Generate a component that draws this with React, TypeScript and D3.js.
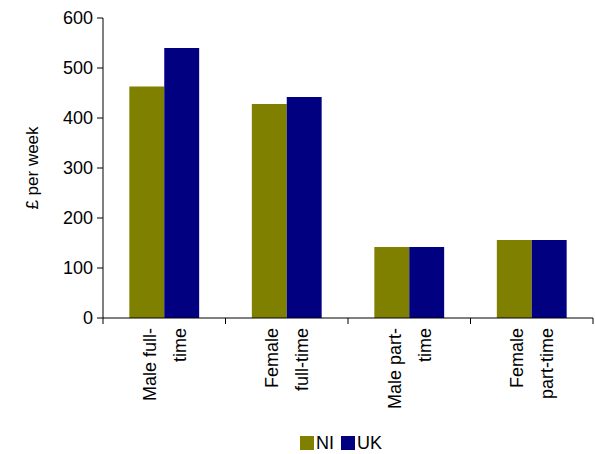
import React from "react";
import * as d3 from "d3";

const categories = [["Male full-", "time"], ["Female", "full-time"], ["Male part-", "time"], ["Female", "part-time"]];
const ni = [463, 428, 142, 156];
const uk = [540, 442, 142, 156];
const yTicks = [0, 100, 200, 300, 400, 500, 600];
const series = [{ name: "NI", color: "#808000", values: ni }, { name: "UK", color: "#000080", values: uk }];

export default function App() {
  const W = 595, H = 454, left = 103, right = 593, top = 18, bottom = 318;
  const x = d3.scaleBand<number>().domain(d3.range(categories.length)).range([left, right]);
  const y = d3.scaleLinear().domain([0, 600]).range([bottom, top]);
  const bw = x.bandwidth() * 0.285;
  const font = "Liberation Sans, Arial, sans-serif";
  return (
    <svg width={W} height={H} style={{ position: "absolute", left: 0, top: 0 }} fontFamily={font}>
      {categories.map((c, i) =>
        series.map((s, j) => (
          <rect key={i + "-" + j} x={x(i)! + x.bandwidth() / 2 - bw + j * bw} y={y(s.values[i])} width={bw} height={bottom - y(s.values[i])} fill={s.color} />
        ))
      )}
      <line x1={left} x2={left} y1={top} y2={bottom} stroke="#000" />
      <line x1={left} x2={right} y1={bottom} y2={bottom} stroke="#000" />
      {yTicks.map(t => (
        <g key={t}>
          <line x1={left - 6} x2={left} y1={y(t)} y2={y(t)} stroke="#000" />
          <text x={left - 10} y={y(t)} dy="0.35em" textAnchor="end" fontSize={18}>{t}</text>
        </g>
      ))}
      {d3.range(categories.length + 1).map(i => {
        const xx = left + i * x.step();
        return <line key={i} x1={xx} x2={xx} y1={bottom} y2={bottom + 6} stroke="#000" />;
      })}
      {categories.map((c, i) => {
        const cx = x(i)! + x.bandwidth() / 2;
        return (
          <g key={i} transform={`translate(${cx},328) rotate(-90)`}>
            {c.map((l, k) => (
              <text key={k} x={0} y={(k - 0.5) * 30} dy="0.35em" textAnchor="end" fontSize={18}>{l}</text>
            ))}
          </g>
        );
      })}
      <text transform={`translate(38,${(top + bottom) / 2}) rotate(-90)`} textAnchor="middle" fontSize={17}>£ per week</text>
      <rect x={300} y={436} width={14} height={14} fill="#808000" />
      <text x={316} y={449} fontSize={18}>NI</text>
      <rect x={341} y={436} width={14} height={14} fill="#000080" />
      <text x={357} y={449} fontSize={18}>UK</text>
    </svg>
  );
}
